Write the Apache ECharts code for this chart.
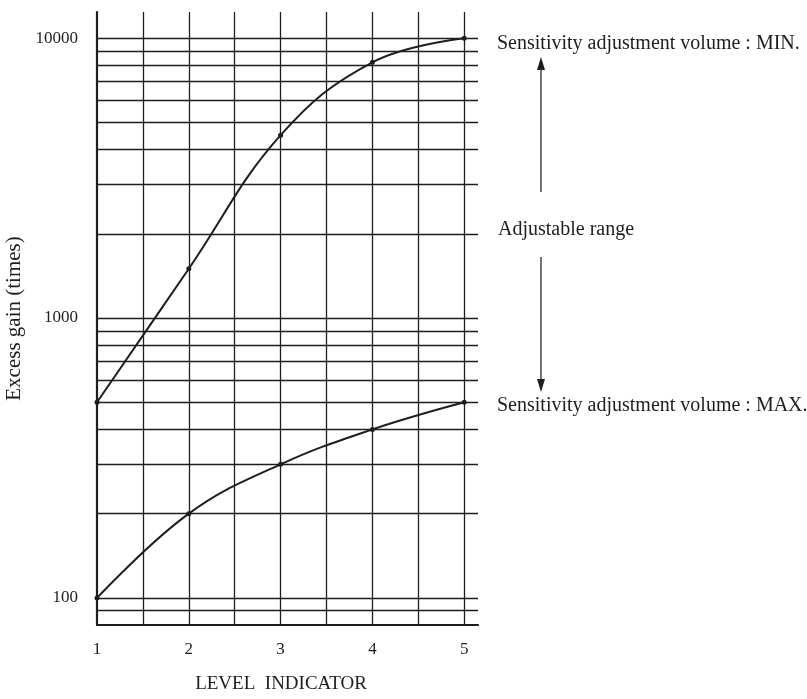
<!DOCTYPE html>
<html>
<head>
<meta charset="utf-8">
<script src="https://cdn.jsdelivr.net/npm/echarts@6/dist/echarts.min.js"></script>
<style>
  html, body { margin: 0; padding: 0; background: #fff; }
  #chart { width: 807px; height: 699px; }
</style>
</head>
<body>
<div id="chart"></div>
<script>
// level indicator steps
const levels = [1, 2, 3, 4, 5];
// excess gain at MIN / MAX sensitivity setting
const gainMin = [500, 1500, 4500, 8200, 10000];
const gainMax = [100, 200, 300, 400, 500];
// log paper rulings
const hLines = [90, 100, 200, 300, 400, 500, 600, 700, 800, 900,
    1000, 2000, 3000, 4000, 5000, 6000, 7000, 8000, 9000, 10000];
const vLines = [1.5, 2, 2.5, 3, 3.5, 4, 4.5, 5];

const ink = "#1e1e1e";
const serif = "Liberation Serif";

const chart = echarts.init(document.getElementById("chart"));

const rule = { color: ink, width: 1.3, type: "solid" };

chart.setOption({
    animation: false,
    backgroundColor: "#fff",
    grid: { left: 97, right: 329, top: 12, bottom: 66 },
    xAxis: {
        type: "value",
        min: 1,
        max: 5.15,
        interval: 1,
        name: "LEVEL  INDICATOR",
        nameLocation: "middle",
        nameGap: 50,
        nameTextStyle: { color: ink, fontFamily: serif, fontSize: 19, padding: [0, 13, 0, 0] },
        axisLine: { onZero: false, lineStyle: { color: ink, width: 2.2 } },
        axisTick: { show: false },
        splitLine: { show: false },
        axisLabel: { color: ink, fontFamily: serif, fontSize: 17, margin: 16, showMaxLabel: false }
    },
    yAxis: {
        type: "log",
        logBase: 10,
        min: 80,
        max: 12400,
        name: "Excess gain (times)",
        nameLocation: "middle",
        nameRotate: 90,
        nameGap: 72,
        nameTextStyle: { color: ink, fontFamily: serif, fontSize: 21 },
        axisLine: { show: true, lineStyle: { color: ink, width: 2.2 } },
        axisTick: { show: false },
        splitLine: { show: false },
        axisLabel: {
            color: ink, fontFamily: serif, fontSize: 17, margin: 19,
            showMinLabel: false, showMaxLabel: false,
            formatter: v => String(Math.round(v))
        }
    },
    series: [
        {
            name: "rulings",
            type: "line",
            data: [],
            silent: true,
            markLine: {
                silent: true,
                symbol: ["none", "none"],
                label: { show: false },
                emphasis: { disabled: true },
                lineStyle: rule,
                data: hLines.map(v => ({ yAxis: v })).concat(vLines.map(v => ({ xAxis: v })))
            }
        },
        {
            name: "Sensitivity MIN",
            type: "line",
            smooth: 0.4,
            data: levels.map((x, i) => [x, gainMin[i]]),
            symbol: "circle",
            symbolSize: 5,
            itemStyle: { color: ink },
            lineStyle: { color: ink, width: 2 }
        },
        {
            name: "Sensitivity MAX",
            type: "line",
            smooth: 0.4,
            data: levels.map((x, i) => [x, gainMax[i]]),
            symbol: "circle",
            symbolSize: 5,
            itemStyle: { color: ink },
            lineStyle: { color: ink, width: 2 }
        }
    ],
    graphic: [
        {
            type: "text", left: 497, top: 34,
            style: { text: "Sensitivity adjustment volume : MIN.", fill: ink, font: "20px " + serif }
        },
        {
            type: "polygon",
            shape: { points: [[541, 57], [537, 70], [545, 70]] },
            style: { fill: ink }
        },
        {
            type: "line",
            shape: { x1: 541, y1: 69, x2: 541, y2: 192 },
            style: { stroke: "#444", lineWidth: 1.5 }
        },
        {
            type: "text", left: 498, top: 220,
            style: { text: "Adjustable range", fill: ink, font: "20px " + serif }
        },
        {
            type: "line",
            shape: { x1: 541, y1: 257, x2: 541, y2: 380 },
            style: { stroke: "#444", lineWidth: 1.5 }
        },
        {
            type: "polygon",
            shape: { points: [[541, 392], [537, 379], [545, 379]] },
            style: { fill: ink }
        },
        {
            type: "text", left: 497, top: 396,
            style: { text: "Sensitivity adjustment volume : MAX.", fill: ink, font: "20px " + serif }
        }
    ]
});
</script>
</body>
</html>
